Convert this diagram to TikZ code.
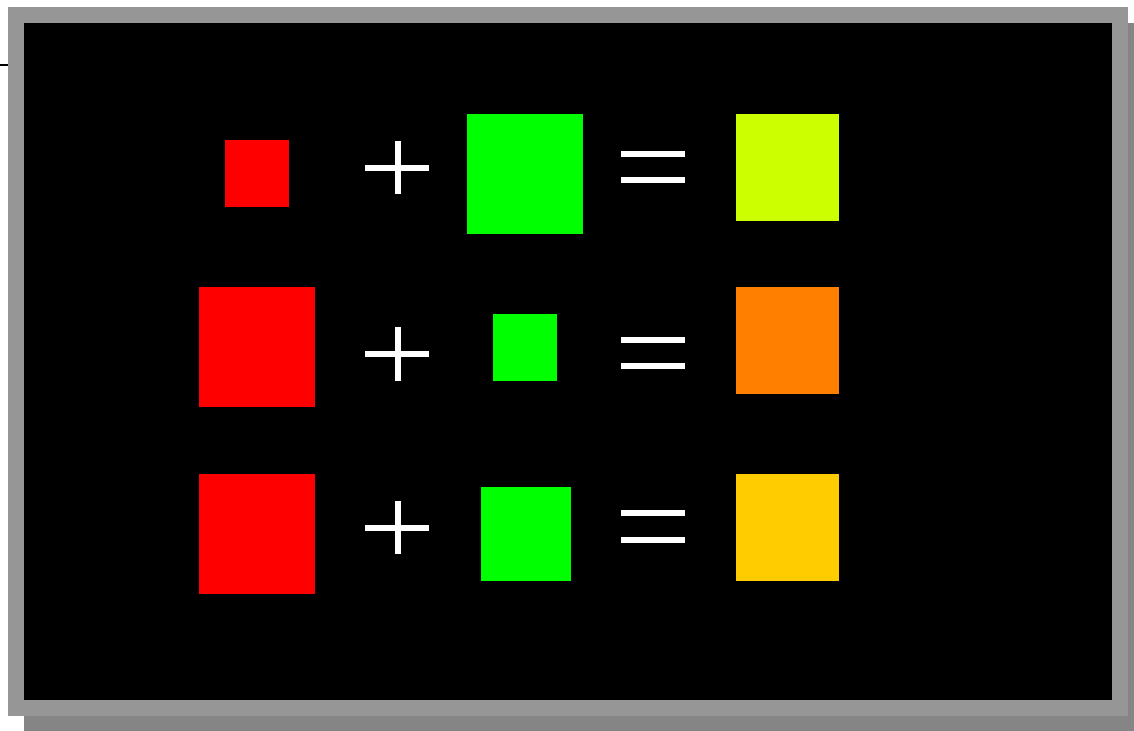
\documentclass[tikz,border=0pt]{standalone}
\usepackage{tikz}
\usetikzlibrary{positioning}
\definecolor{framec}{HTML}{969696}
\definecolor{shadowc}{HTML}{858585}
\definecolor{redc}{HTML}{FF0000}
\definecolor{greenc}{HTML}{00FF00}
\definecolor{limec}{HTML}{CCFF00}
\definecolor{orangec}{HTML}{FF7F00}
\definecolor{amberc}{HTML}{FFCC00}

\begin{document}
\begin{tikzpicture}[x=0.02cm, y=-0.02cm,
      sq/.style={draw=none, inner sep=0pt, outer sep=0pt},
      sym/.style={white, line width=6*0.02cm}]
    \useasboundingbox (0,0) rectangle (1134,731);
    % frame with drop shadow
    \fill[shadowc] (24,23) rectangle (1134,731);
    \fill[framec] (8,7) rectangle (1128,716);
    \fill[black] (24,23) rectangle (1112,700);
    \coordinate (tick) at (0,65);
    \draw[black, line width=2*0.02cm] (tick) -- (8,65);

    % row 1
    \node[sq, fill=redc,   minimum width=64*0.02cm,  minimum height=67*0.02cm]  (r1) at (257,173.5) {};
    \node[sq, fill=greenc, minimum width=116*0.02cm, minimum height=120*0.02cm] (g1) at (525,174) {};
    \node[sq, fill=limec,  minimum width=103*0.02cm, minimum height=107*0.02cm] (s1) at (787.5,167.5) {};
    \draw[sym] (365,167.5) -- (429,167.5) (398,141) -- (398,194);
    \draw[sym] (621,154) -- (685,154) (621,180) -- (685,180);

    % row 2
    \node[sq, fill=redc,   minimum width=116*0.02cm, minimum height=120*0.02cm] (r2) at (257,347) {};
    \node[sq, fill=greenc, minimum width=64*0.02cm,  minimum height=67*0.02cm]  (g2) at (525,347.5) {};
    \node[sq, fill=orangec,minimum width=103*0.02cm, minimum height=107*0.02cm] (s2) at (787.5,340.5) {};
    \draw[sym] (365,354) -- (429,354) (398,327) -- (398,381);
    \draw[sym] (621,340) -- (685,340) (621,366) -- (685,366);

    % row 3
    \node[sq, fill=redc,   minimum width=116*0.02cm, minimum height=120*0.02cm] (r3) at (257,534) {};
    \node[sq, fill=greenc, minimum width=90*0.02cm,  minimum height=94*0.02cm]  (g3) at (526,534) {};
    \node[sq, fill=amberc, minimum width=103*0.02cm, minimum height=107*0.02cm] (s3) at (787.5,527.5) {};
    \draw[sym] (365,527.5) -- (429,527.5) (398,501) -- (398,554);
    \draw[sym] (621,513) -- (685,513) (621,540) -- (685,540);
  \end{tikzpicture}
\end{document}
